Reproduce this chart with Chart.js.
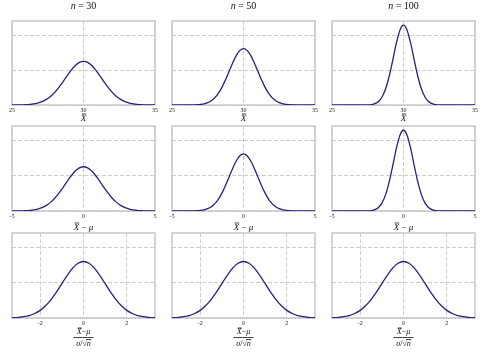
<!DOCTYPE html>
<html><head>
<meta charset="utf-8">
<script src="https://cdn.jsdelivr.net/npm/chart.js@4"></script>
<style>
body{margin:0;width:485px;height:352px;position:relative;background:#fff;overflow:hidden}
canvas{position:absolute}
</style>
</head><body>
<script>
// ---- data ----
const sampleSizes = [30, 50, 100];
const popMean = 30;
const offsets = [-5,-4.75,-4.5,-4.25,-4,-3.75,-3.5,-3.25,-3,-2.75,-2.5,-2.25,-2,-1.75,-1.5,-1.25,-1,-0.75,-0.5,-0.25,0,
                 0.25,0.5,0.75,1,1.25,1.5,1.75,2,2.25,2.5,2.75,3,3.25,3.5,3.75,4,4.25,4.5,4.75,5];
const dens30 = [0.0001,0.0003,0.0006,0.0012,0.0023,0.0042,0.0073,0.0123,0.0199,0.0308,0.0461,0.0663,0.0918,0.1223,0.1568,0.1935,0.2299,0.2628,0.2892,0.3063,0.3122,
                0.3063,0.2892,0.2628,0.2299,0.1935,0.1568,0.1223,0.0918,0.0663,0.0461,0.0308,0.0199,0.0123,0.0073,0.0042,0.0023,0.0012,0.0006,0.0003,0.0001];
const dens50 = [0,0,0,0,0.0001,0.0003,0.0008,0.0018,0.0041,0.0085,0.0166,0.0305,0.0524,0.0845,0.1279,0.1816,0.2420,0.3024,0.3547,0.3903,0.4030,
                0.3903,0.3547,0.3024,0.2420,0.1816,0.1279,0.0845,0.0524,0.0305,0.0166,0.0085,0.0041,0.0018,0.0008,0.0003,0.0001,0,0,0,0];
const dens100 = [0,0,0,0,0,0,0,0,0.0001,0.0003,0.0010,0.0032,0.0096,0.0250,0.0574,0.1157,0.2054,0.3210,0.4416,0.5347,0.5699,
                 0.5347,0.4416,0.3210,0.2054,0.1157,0.0574,0.0250,0.0096,0.0032,0.0010,0.0003,0.0001,0,0,0,0,0,0,0,0];
const zValues = [-3.5,-3.25,-3,-2.75,-2.5,-2.25,-2,-1.75,-1.5,-1.25,-1,-0.75,-0.5,-0.25,0,
                 0.25,0.5,0.75,1,1.25,1.5,1.75,2,2.25,2.5,2.75,3,3.25,3.5];
const zDens = [0.0009,0.0020,0.0044,0.0091,0.0175,0.0317,0.0540,0.0863,0.1295,0.1826,0.2420,0.3011,0.3521,0.3867,0.3989,
               0.3867,0.3521,0.3011,0.2420,0.1826,0.1295,0.0863,0.0540,0.0317,0.0175,0.0091,0.0044,0.0020,0.0009];
const row1Ticks = [25, 30, 35];
const row2Ticks = [-5, 0, 5];
const row3Ticks = [-2, 0, 2];
const yGridValues = [0, 0.25, 0.5];

// ---- layout ----
const colLeft = [12, 172, 332];
const plotW = 143;
const rowTop = [21, 126, 233];
const plotH = [84, 85, 85];
const axisH = [17, 22, 34];
const PADL = 12, PADT = 21;
const SERIF = '"Liberation Serif","DejaVu Serif",serif';
const LINE = '#25217f';
const FRAME = '#c6c6c6';

const densByN = [dens30, dens50, dens100];

function drawParts(ctx, parts, cx, cy, size){
  let widths = parts.map(p => { ctx.font = (p.i ? 'italic ' : '') + size + 'px ' + SERIF; return ctx.measureText(p.t).width; });
  let total = widths.reduce((a,b)=>a+b,0);
  let x = cx - total/2;
  const pos = [];
  parts.forEach((p,k) => {
    ctx.font = (p.i ? 'italic ' : '') + size + 'px ' + SERIF;
    ctx.textAlign = 'left'; ctx.textBaseline = 'middle';
    ctx.fillText(p.t, x, cy);
    pos.push({x, w: widths[k]});
    x += widths[k];
  });
  return pos;
}

function overbar(ctx, x, w, y){
  ctx.save(); ctx.strokeStyle = '#111'; ctx.lineWidth = 0.8;
  ctx.beginPath(); ctx.moveTo(x + 1, y); ctx.lineTo(x + w, y); ctx.stroke(); ctx.restore();
}

function makeChart(r, c){
  const cv = document.createElement('canvas');
  const W = plotW + PADL + 12;
  const H = PADT + plotH[r] + axisH[r];
  cv.width = W; cv.height = H;
  cv.style.left = (colLeft[c] - PADL) + 'px';
  cv.style.top = (rowTop[r] - PADT) + 'px';
  cv.style.width = W + 'px'; cv.style.height = H + 'px';
  document.body.appendChild(cv);

  let pts, xmin, xmax, ticks;
  if (r === 0) {
    pts = offsets.map((d,k) => ({x: popMean + d, y: densByN[c][k]}));
    xmin = 25; xmax = 35; ticks = row1Ticks;
  } else if (r === 1) {
    pts = offsets.map((d,k) => ({x: d, y: densByN[c][k]}));
    xmin = -5; xmax = 5; ticks = row2Ticks;
  } else {
    pts = zValues.map((z,k) => ({x: z, y: zDens[k]}));
    xmin = -3.3; xmax = 3.3; ticks = row3Ticks;
  }

  const deco = {
    id: 'deco',
    beforeDatasetsDraw(chart){
      const a = chart.chartArea, ctx = chart.ctx;
      ctx.save(); ctx.strokeStyle = FRAME; ctx.lineWidth = 1.5;
      ctx.strokeRect(a.left, a.top, a.right - a.left, a.bottom - a.top);
      ctx.restore();
    },
    afterDraw(chart){
      const a = chart.chartArea, ctx = chart.ctx;
      const cx = (a.left + a.right) / 2;
      ctx.save(); ctx.fillStyle = '#111';
      if (r === 0) {
        drawParts(ctx, [{t:'n', i:true}, {t:' = ' + sampleSizes[c], i:false}], cx, 6, 10);
        const p = drawParts(ctx, [{t:'X', i:true}], cx, a.bottom + 13.5, 9);
        overbar(ctx, p[0].x, p[0].w, a.bottom + 9);
      } else if (r === 1) {
        const p = drawParts(ctx, [{t:'X', i:true}, {t:' \u2212 ', i:false}, {t:'\u03bc', i:true}], cx, a.bottom + 16.5, 9);
        overbar(ctx, p[0].x, p[0].w, a.bottom + 12);
      } else {
        const ny = a.bottom + 14;
        const p = drawParts(ctx, [{t:'X', i:true}, {t:'\u2212', i:false}, {t:'\u03bc', i:true}], cx, ny, 8);
        overbar(ctx, p[0].x, p[0].w, ny - 4);
        const ly = a.bottom + 19.5;
        ctx.strokeStyle = '#111'; ctx.lineWidth = 0.8;
        ctx.beginPath(); ctx.moveTo(cx - 10, ly); ctx.lineTo(cx + 10, ly); ctx.stroke();
        const dy = a.bottom + 26;
        const q = drawParts(ctx, [{t:'\u03c3', i:true}, {t:'/', i:false}, {t:'\u221a', i:false}, {t:'n', i:true}], cx, dy, 8);
        ctx.beginPath(); ctx.moveTo(q[3].x - 0.5, dy - 4.5); ctx.lineTo(q[3].x + q[3].w + 0.5, dy - 4.5); ctx.stroke();
      }
      ctx.restore();
    }
  };

  new Chart(cv, {
    type: 'line',
    data: { datasets: [{ data: pts, borderColor: LINE, borderWidth: 1.3, pointRadius: 0, fill: false,
                         cubicInterpolationMode: 'monotone' }] },
    options: {
      responsive: false, animation: false, devicePixelRatio: 1,
      layout: { padding: { left: PADL, right: 12, top: PADT, bottom: 0 } },
      plugins: { legend: { display: false }, tooltip: { enabled: false }, title: { display: false } },
      scales: {
        x: {
          type: 'linear', min: xmin, max: xmax,
          afterBuildTicks: s => { s.ticks = ticks.map(v => ({value: v})); },
          afterFit: s => { s.height = axisH[r]; },
          grid: { color: '#cdcdcd', lineWidth: 1, drawTicks: false },
          border: { display: false, dash: [4, 2] },
          ticks: { font: { family: SERIF, size: 6 }, color: '#222', padding: 2, maxRotation: 0, autoSkip: false,
                   callback: v => String(v) }
        },
        y: {
          min: 0, max: 0.6,
          afterBuildTicks: s => { s.ticks = yGridValues.map(v => ({value: v})); },
          afterFit: s => { s.width = 0; },
          grid: { color: '#cdcdcd', lineWidth: 1, drawTicks: false },
          border: { display: false, dash: [4, 2] },
          ticks: { display: false }
        }
      }
    },
    plugins: [deco]
  });
}

for (let r = 0; r < 3; r++) for (let c = 0; c < 3; c++) makeChart(r, c);
</script>
</body></html>
